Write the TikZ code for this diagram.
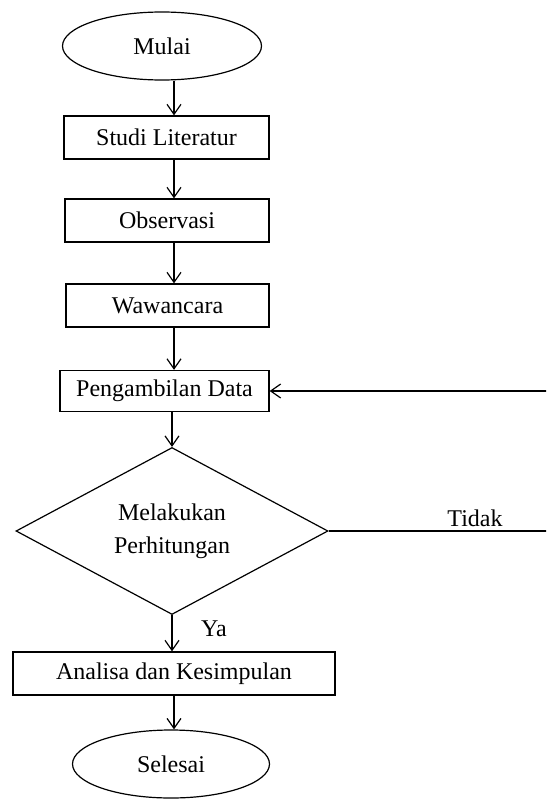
\documentclass[tikz,border=0pt]{standalone}
\usepackage{fontspec}
\setmainfont{Liberation Serif}
\usetikzlibrary{shapes.geometric,arrows.meta}
\begin{document}
\begin{tikzpicture}[x=1pt,y=-1pt,
  every node/.style={font=\fontsize{24}{33}\selectfont, text=black},
  box/.style={draw, line width=1.3pt, inner sep=0pt, rectangle},
  oval/.style={ellipse, draw, line width=1.2pt, inner sep=0pt},
  dec/.style={diamond, draw, line width=1.2pt, inner sep=0pt, align=center, shape aspect=1.86},
  flow/.style={draw, line width=1.2pt, -{Straight Barb[length=10pt,width=14pt,line width=1.2pt]}},
  lbl/.style={inner sep=0pt}]
\useasboundingbox (0,0) rectangle (546,800);
\clip (0,0) rectangle (546,800);
\coordinate (spine) at (174,0);

\node[oval, minimum width=199pt, minimum height=68pt] (mulai) at (162,46) {Mulai};
\node[box, minimum width=205pt, minimum height=43pt] (studi) at (166.5,137.5) {Studi Literatur};
\node[box, minimum width=204pt, minimum height=43pt] (obs) at (167,220.5) {Observasi};
\node[box, minimum width=203pt, minimum height=43pt] (waw) at (167.5,305.5) {Wawancara};
\node[box, minimum width=209pt, minimum height=41pt] (peng) at (164.5,391) {Pengambilan Data};
\node[dec, minimum width=312pt, minimum height=167pt] (cek) at (172,531) {Melakukan\\Perhitungan};
\node[box, minimum width=322pt, minimum height=43pt] (anal) at (174,673.5) {Analisa dan Kesimpulan};
\node[oval, minimum width=197pt, minimum height=68pt] (selesai) at (171,764) {Selesai};

\node[lbl] (tidak) at (475,518) {Tidak};
\node[lbl] (ya) at (214,629) {Ya};

\coordinate (farlow) at (570,531);
\coordinate (farhigh) at (570,391);

\draw[flow] (mulai.south -| spine) -- (studi.north -| spine);
\draw[flow] (studi.south -| spine) -- (obs.north -| spine);
\draw[flow] (obs.south -| spine) -- (waw.north -| spine);
\draw[flow] (waw.south -| spine) -- (peng.north -| spine);
\draw[flow] (peng.south -| cek.north) -- (cek.north);
\draw[flow] (cek.south) -- (anal.north -| cek.south);
\draw[flow] (anal.south -| spine) -- (selesai.north -| spine);
\draw[flow] (cek.east) -- (farlow) -- (farhigh) -- (peng.east);
\end{tikzpicture}
\end{document}
